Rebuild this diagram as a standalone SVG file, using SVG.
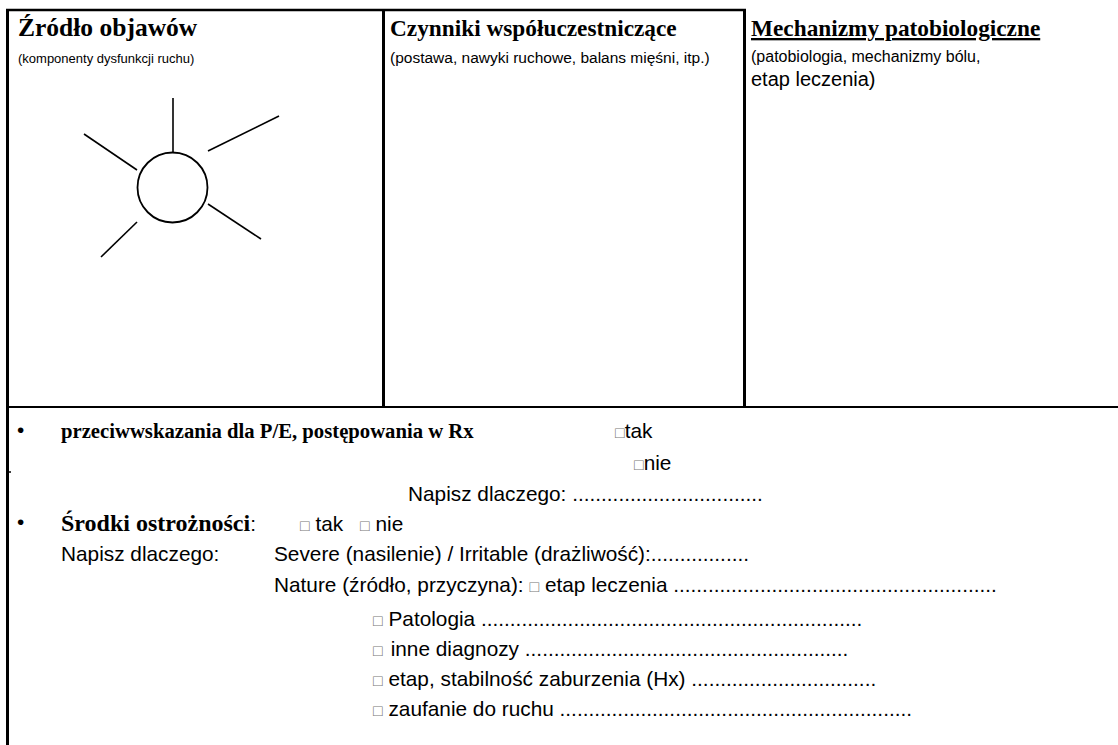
<svg xmlns="http://www.w3.org/2000/svg" width="1118" height="745" viewBox="0 0 1118 745">
<style>
  .h1{font-family:"Liberation Serif","Times New Roman",serif;font-weight:bold;fill:#000}
  .sub{font-family:"Liberation Sans",Arial,sans-serif;fill:#000}
  .body{font-family:"Liberation Sans",Arial,sans-serif;font-size:20.8px;fill:#000}
  .bold{font-family:"Liberation Serif","Times New Roman",serif;font-weight:bold;fill:#000}
  .box{fill:#777;font-family:"Liberation Sans","DejaVu Sans",sans-serif;font-size:16px}
  .frame{stroke:#000;fill:none}
  .ray{stroke:#000;stroke-width:1.6;fill:none}
</style>
<rect width="1118" height="745" fill="#fff"/>
<g id="frame">
  <line class="frame" x1="6" y1="10" x2="746" y2="10" stroke-width="2.5"/>
  <line class="frame" x1="7.5" y1="9" x2="7.5" y2="745" stroke-width="3"/>
  <line class="frame" x1="8" y1="472" x2="11" y2="472" stroke-width="1.5"/>
  <line class="frame" x1="383.5" y1="9" x2="383.5" y2="407" stroke-width="3"/>
  <line class="frame" x1="744.5" y1="9" x2="744.5" y2="407" stroke-width="3"/>
  <line class="frame" x1="7" y1="407" x2="1118" y2="407" stroke-width="2"/>
</g>
<g id="col-zrodlo">
  <text class="h1" x="18" y="36" font-size="25.5">Źródło objawów</text>
  <text class="sub" x="18" y="63" font-size="13">(komponenty dysfunkcji ruchu)</text>
  <g id="sun">
    <circle cx="172.5" cy="187.5" r="35" fill="none" stroke="#000" stroke-width="1.8"/>
    <line class="ray" x1="173" y1="98" x2="173" y2="152"/>
    <line class="ray" x1="84" y1="134" x2="137" y2="170"/>
    <line class="ray" x1="208" y1="151" x2="279" y2="116"/>
    <line class="ray" x1="208" y1="204" x2="261" y2="239"/>
    <line class="ray" x1="137" y1="222" x2="101" y2="257"/>
  </g>
</g>
<g id="col-czynniki">
  <text class="h1" x="390" y="36" font-size="23.3">Czynniki współuczestniczące</text>
  <text class="sub" x="390" y="63" font-size="15.5">(postawa, nawyki ruchowe, balans mięśni, itp.)</text>
</g>
<g id="col-mechanizmy">
  <text class="h1" x="751" y="36" font-size="23.3" text-decoration="underline">Mechanizmy patobiologiczne</text>
  <text class="sub" x="751" y="62" font-size="16">(patobiologia, mechanizmy bólu,</text>
  <text class="sub" x="751" y="86" font-size="20">etap leczenia)</text>
</g>
<g id="przeciwwskazania">
  <text class="body" x="17" y="437" font-size="18">•</text>
  <text class="bold" x="61" y="438" font-size="20.7">przeciwwskazania dla P/E, postępowania w Rx</text>
  <text class="body" x="615" y="438"><tspan class="box" font-size="15">□</tspan>tak</text>
  <text class="body" x="634" y="470"><tspan class="box" font-size="14">□</tspan>nie</text>
  <text class="body" x="408" y="501">Napisz dlaczego: .................................</text>
</g>
<g id="srodki">
  <text class="body" x="17" y="529" font-size="18">•</text>
  <text x="61" y="531"><tspan class="bold" font-size="24">Środki ostrożności</tspan><tspan class="body">:</tspan></text>
  <text class="body" x="300" y="531"><tspan class="box">□</tspan> tak</text>
  <text class="body" x="360" y="531"><tspan class="box">□</tspan> nie</text>
  <text class="body" x="61" y="561">Napisz dlaczego:</text>
  <text class="body" x="274" y="561">Severe (nasilenie) / Irritable (drażliwość):.................</text>
  <text class="body" x="274" y="592">Nature (źródło, przyczyna): <tspan class="box">□</tspan> etap leczenia ........................................................</text>
  <text class="body" x="373" y="626"><tspan class="box">□</tspan> Patologia ..................................................................</text>
  <text class="body" x="373" y="656"><tspan class="box" font-size="19">□</tspan><tspan dx="8">inne diagnozy ........................................................</tspan></text>
  <text class="body" x="373" y="686"><tspan class="box">□</tspan> etap, stabilność zaburzenia (Hx) ................................</text>
  <text class="body" x="373" y="716"><tspan class="box">□</tspan> zaufanie do ruchu .............................................................</text>
</g>
</svg>
